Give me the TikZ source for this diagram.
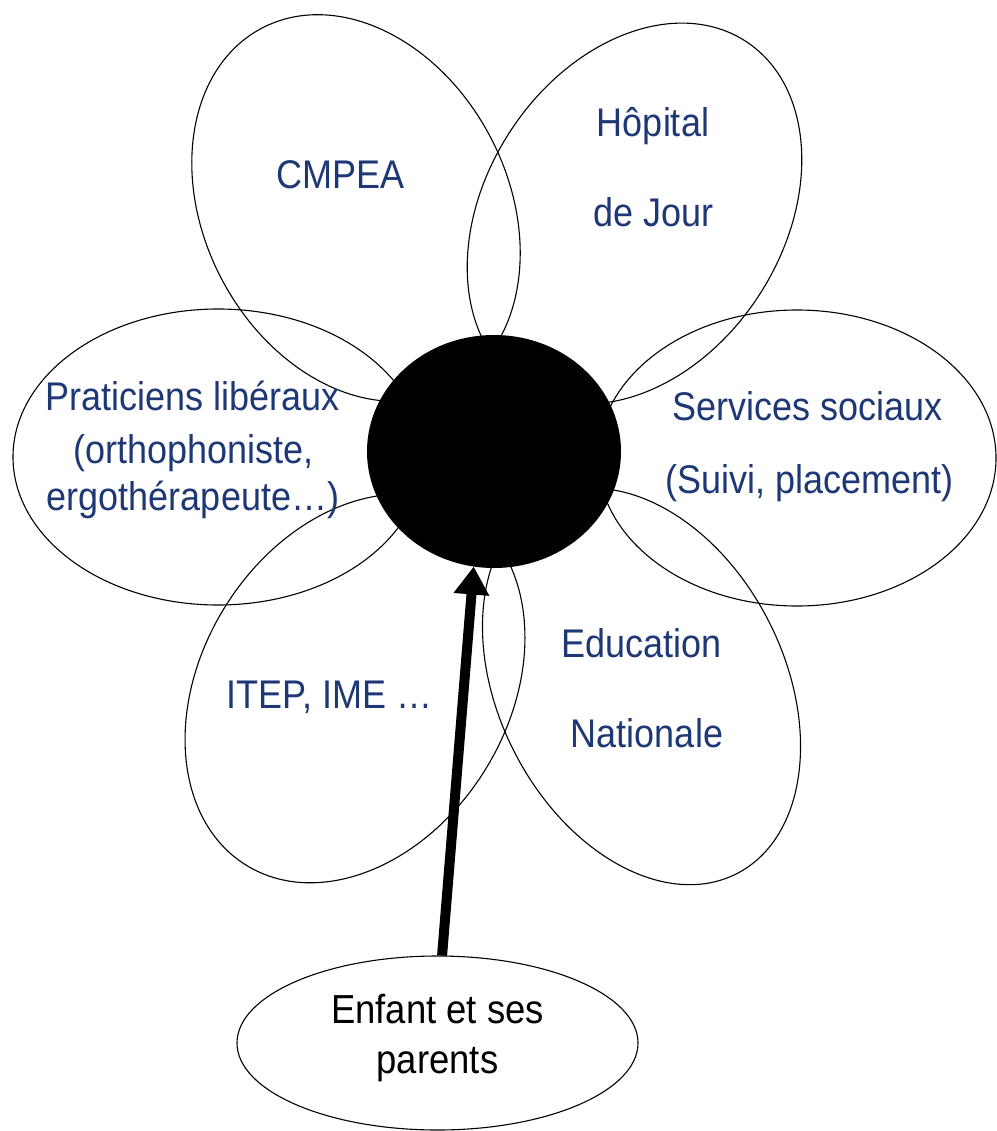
\documentclass[tikz,border=0pt]{standalone}
\usepackage{fontspec}
\setmainfont{Liberation Sans}
\newfontfamily\condfont[FakeStretch=0.9]{Liberation Sans}
\usetikzlibrary{shapes.geometric,arrows.meta}
\definecolor{navy}{RGB}{30,56,118}
\begin{document}
\begin{tikzpicture}[x=1pt,y=-1pt,
  petal/.style={ellipse, draw=black, line width=1.1pt, inner sep=0pt, outer sep=0pt},
  lbl/.style={font=\condfont\fontsize{40}{48}\selectfont, text=navy, anchor=base, inner sep=0pt},
  hubstyle/.style={ellipse, fill=black, inner sep=0pt, outer sep=0pt},
  childstyle/.style={ellipse, draw=black, line width=1.1pt, inner sep=0pt, align=center,
    text depth=19pt, font=\condfont\fontsize{40.5}{50}\selectfont},
  bigarrow/.style={line width=10pt, -{Triangle[length=28pt,width=34pt]}}
]
\useasboundingbox (0,0) rectangle (996,1131);
\fill[white] (0,0) rectangle (996,1131);

% petals
\node[petal, minimum width=406pt, minimum height=304pt, rotate=-62.5] (pcmpea) at (356,208) {};
\node[petal, minimum width=410pt, minimum height=298pt, rotate=57.3] (phop) at (634.5,213.5) {};
\node[petal, minimum width=410pt, minimum height=296pt] (pprat) at (218,457) {};
\node[petal, minimum width=398pt, minimum height=296pt] (pserv) at (797,458) {};
\node[petal, minimum width=415pt, minimum height=307pt, rotate=58.5] (pitep) at (355,688.5) {};
\node[petal, minimum width=420pt, minimum height=286pt, rotate=-63.1] (pedu) at (641.5,686.5) {};

% centre
\node[hubstyle, minimum width=254pt, minimum height=233pt] (hub) at (494,451.5) {};

% labels
\node[lbl] (tcmpea) at (341,189) {CMPEA};
\node[lbl] (thop1) at (653,137) {Hôpital};
\node[lbl] (thop2) at (653.5,227) {de Jour};
\node[lbl] (tprat1) at (193,410.5) {Praticiens libéraux};
\node[lbl] (tprat2) at (193.5,463) {(orthophoniste,};
\node[lbl] (tprat3) at (193,510) {ergothérapeute…)};
\node[lbl] (tserv1) at (808,420) {Services sociaux};
\node[lbl] (tserv2) at (809.5,493) {(Suivi, placement)};
\node[lbl] (tedu1) at (641.5,657) {Education};
\node[lbl] (tedu2) at (647,747) {Nationale};
\node[lbl] (titep) at (329.5,708) {ITEP, IME …};

% child and parents
\node[childstyle, minimum width=401pt, minimum height=174pt] (enfant) at (437.5,1043) {Enfant et ses\\parents};

\draw[bigarrow] (enfant.87) -- (hub.260);
\end{tikzpicture}
\end{document}
